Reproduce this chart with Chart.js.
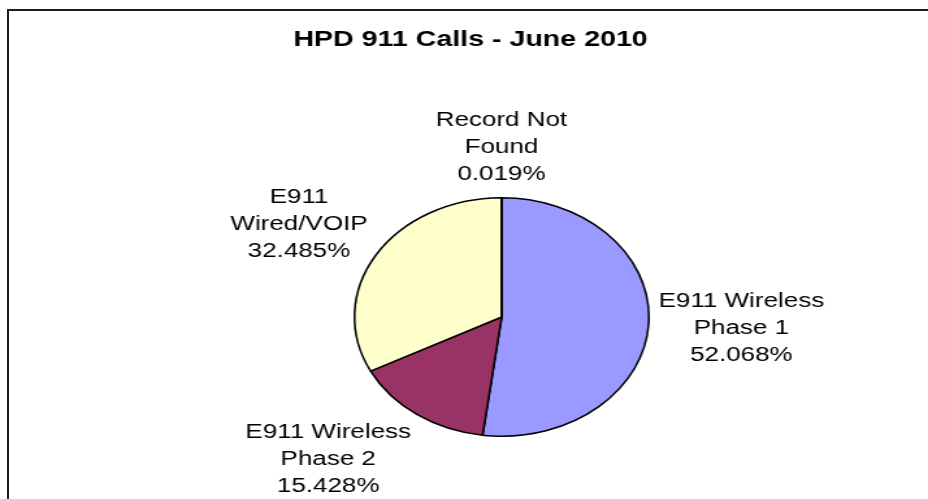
<!DOCTYPE html>
<html>
<head>
<meta charset="utf-8">
<title>HPD 911 Calls - June 2010</title>
<script src="https://cdn.jsdelivr.net/npm/chart.js@4.4.1/dist/chart.umd.min.js"></script>
<style>
  html, body { margin: 0; padding: 0; background: #fff; }
  #wrap { position: relative; width: 928px; height: 499px; overflow: hidden; }
  #frame { position: absolute; left: 7px; top: 9px; width: 960px; height: 520px;
           border-top: 2px solid #1c1c1c; border-left: 2px solid #1c1c1c; }
  canvas { position: absolute; left: 0; top: 0; }
</style>
</head>
<body>
<div id="wrap">
  <div id="frame"></div>
  <!-- drawn narrow, then stretched sideways like the original picture -->
  <canvas id="pie-canvas" width="714" height="499" style="width:928px;height:499px"></canvas>
</div>
<script>
var chartTitle = "HPD 911 Calls - June 2010";
var categories = ["E911 Wireless\nPhase 1", "E911 Wireless\nPhase 2", "E911\nWired/VOIP", "Record Not\nFound"];
var shares = [52.068, 15.428, 32.485, 0.019];
var sliceColors = ["#9999FF", "#993366", "#FFFFCC", "#CCFFFF"];

var stretch = 928 / 714;   // css stretch of the canvas
var squeeze = 0.95;        // extra horizontal squeeze of the pie only

// make the pie an oval
var ovalPie = {
  id: "ovalPie",
  beforeDatasetsDraw: function(chart) {
    var arc = chart.getDatasetMeta(0).data[0];
    var ctx = chart.ctx;
    ctx.save();
    ctx.translate(arc.x, arc.y);
    ctx.scale(squeeze, 1);
    ctx.translate(-arc.x, -arc.y);
  },
  afterDatasetsDraw: function(chart) {
    chart.ctx.restore();
  }
};

// title + outside-end labels like Excel
var sliceLabels = {
  id: "sliceLabels",
  afterDraw: function(chart) {
    var ctx = chart.ctx;
    var meta = chart.getDatasetMeta(0);
    var total = shares.reduce(function(a, b) { return a + b; }, 0);
    ctx.save();
    ctx.fillStyle = "#000";
    ctx.textAlign = "center";
    ctx.textBaseline = "middle";
    ctx.font = 'bold 22px "Liberation Sans", Arial, sans-serif';
    ctx.fillText(chartTitle, 362, 40);

    ctx.font = '20px "Liberation Sans", Arial, sans-serif';
    var lineH = 27;
    meta.data.forEach(function(arc, i) {
      var p = arc.getProps(["x", "y", "startAngle", "endAngle", "outerRadius"], true);
      var mid = (p.startAngle + p.endAngle) / 2;
      var dx = Math.cos(mid), dy = Math.sin(mid);
      var lines = categories[i].split("\n");
      lines.push((shares[i] / total * 100).toFixed(3) + "%");
      var w = 0;
      lines.forEach(function(t) { w = Math.max(w, ctx.measureText(t).width); });
      var h = lines.length * lineH;
      var ax = p.x + (p.outerRadius * squeeze + 10 / stretch) * dx;
      var ay = p.y + (p.outerRadius + 10 + 8 * Math.abs(dx)) * dy;
      var cx = ax + w / 2 * Math.max(-1, Math.min(1, dx * 3));
      var cy = ay + h / 2 * dy;
      lines.forEach(function(t, j) {
        ctx.fillText(t, cx, cy + (j - (lines.length - 1) / 2) * lineH);
      });
    });
    ctx.restore();
  }
};

var ctx = document.getElementById("pie-canvas");

var chartData = {
  labels: categories,
  datasets: [{
    data: shares,
    backgroundColor: sliceColors,
    borderColor: "#000",
    borderWidth: 1.6
  }]
};

var options = {
  responsive: false,
  animation: false,
  events: [],
  layout: {
    padding: { top: 197, bottom: 62, left: 266, right: 208 }
  },
  plugins: {
    legend: { display: false },
    tooltip: { enabled: false },
    title: { display: false }
  }
};

var chart = new Chart(ctx, {
  type: "pie",
  data: chartData,
  options: options,
  plugins: [ovalPie, sliceLabels]
});
</script>
</body>
</html>
